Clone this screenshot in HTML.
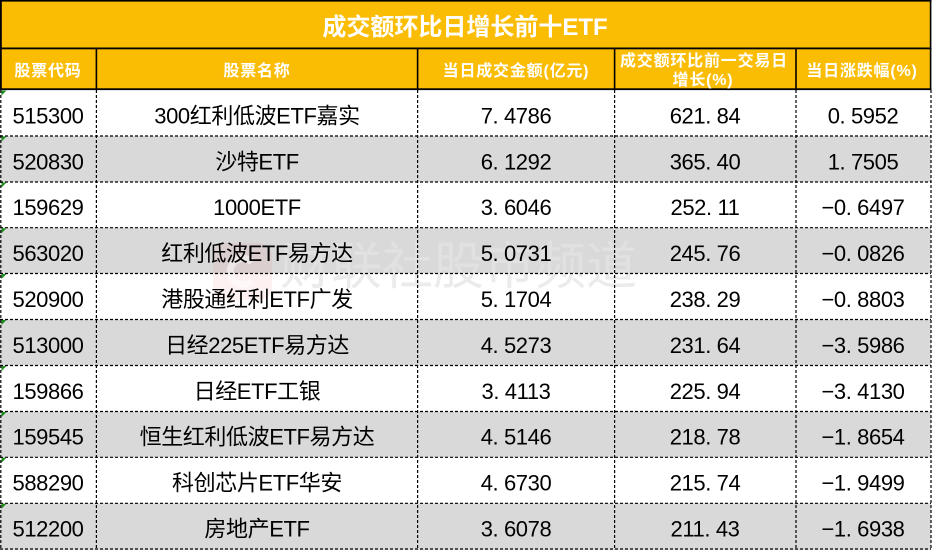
<!DOCTYPE html>
<html><head><meta charset="utf-8"><style>
html,body{margin:0;padding:0;background:#fff;}
svg{display:block;}
</style></head><body>
<svg width="933" height="550" viewBox="0 0 933 550" xmlns="http://www.w3.org/2000/svg" font-family="'Liberation Sans','Noto Sans CJK SC',sans-serif">
<rect x="0" y="0" width="933" height="550" fill="#ffffff"/>
<!-- header background -->
<rect x="0" y="0" width="931" height="89" fill="#FBBC04"/>
<!-- gray rows -->
<rect x="0" y="136" width="931" height="46" fill="#D9D9D9"/>
<rect x="0" y="227.7" width="931" height="45.8" fill="#D9D9D9"/>
<rect x="0" y="319.5" width="931" height="46" fill="#D9D9D9"/>
<rect x="0" y="411.5" width="931" height="45.8" fill="#D9D9D9"/>
<rect x="0" y="503.3" width="931" height="46.7" fill="#D9D9D9"/>

<!-- watermark -->
<g>
<rect x="213" y="243" width="59" height="57" rx="13" fill="rgba(225,80,80,0.08)"/>
<path d="M252 262 A13 13 0 1 0 252 281" fill="none" stroke="rgba(255,255,255,0.5)" stroke-width="7"/>
<text x="280" y="284" font-size="51" fill="rgba(228,228,228,0.74)" font-family="'Noto Sans CJK SC',sans-serif">财联社股市频道</text>
</g>

<!-- solid header borders -->
<g fill="#000">
<rect x="0" y="0" width="931.5" height="1.6"/>
<rect x="0" y="0" width="1.8" height="89"/>
<rect x="0" y="47.5" width="931.5" height="1.8"/>
<rect x="0" y="88.3" width="931.5" height="1.8"/>
<rect x="95.6" y="48" width="1.6" height="41"/>
<rect x="416.8" y="48" width="1.6" height="41"/>
<rect x="613.8" y="48" width="1.6" height="41"/>
<rect x="795.2" y="48" width="1.6" height="41"/>
<rect x="929.8" y="0" width="1.6" height="89"/>
</g>

<!-- dashed grid -->
<g stroke="#000" stroke-width="1.2" stroke-dasharray="3,2" fill="none">
<line x1="0.8" y1="90" x2="0.8" y2="550"/>
<line x1="96.4" y1="90" x2="96.4" y2="550"/>
<line x1="417.6" y1="90" x2="417.6" y2="550"/>
<line x1="614.6" y1="90" x2="614.6" y2="550"/>
<line x1="796" y1="90" x2="796" y2="550"/>
<line x1="931" y1="90" x2="931" y2="550"/>
<line x1="0" y1="136" x2="931" y2="136"/>
<line x1="0" y1="182" x2="931" y2="182"/>
<line x1="0" y1="227.7" x2="931" y2="227.7"/>
<line x1="0" y1="273.5" x2="931" y2="273.5"/>
<line x1="0" y1="319.5" x2="931" y2="319.5"/>
<line x1="0" y1="365.5" x2="931" y2="365.5"/>
<line x1="0" y1="411.5" x2="931" y2="411.5"/>
<line x1="0" y1="457.3" x2="931" y2="457.3"/>
<line x1="0" y1="503.3" x2="931" y2="503.3"/>
<line x1="0" y1="549" x2="931" y2="549"/>
</g>

<!-- green triangles -->
<g fill="#1e8c1e">
<polygon points="1.5,90.5 6.5,90.5 1.5,95.5"/>
<polygon points="1.5,136.5 6.5,136.5 1.5,141.5"/>
<polygon points="1.5,182.5 6.5,182.5 1.5,187.5"/>
<polygon points="1.5,228.2 6.5,228.2 1.5,233.2"/>
<polygon points="1.5,274 6.5,274 1.5,279"/>
<polygon points="1.5,320 6.5,320 1.5,325"/>
<polygon points="1.5,366 6.5,366 1.5,371"/>
<polygon points="1.5,412 6.5,412 1.5,417"/>
<polygon points="1.5,457.8 6.5,457.8 1.5,462.8"/>
<polygon points="1.5,503.8 6.5,503.8 1.5,508.8"/>
</g>

<!-- title -->
<text x="465" y="35" font-size="24" font-weight="bold" fill="#fff" text-anchor="middle">成交额环比日增长前十ETF</text>

<!-- header -->
<g font-size="16" font-weight="bold" fill="#fff" text-anchor="middle" letter-spacing="0.8">
<text x="48" y="76">股票代码</text>
<text x="257" y="76">股票名称</text>
<text x="516" y="76">当日成交金额(亿元)</text>
<text x="704" y="66">成交额环比前一交易日</text>
<text x="703" y="85">增长(%)</text>
<text x="862" y="76">当日涨跌幅(%)</text>
</g>

<!-- data -->
<g font-size="22" fill="#000" text-anchor="middle" letter-spacing="-0.4">
<text x="48" y="123.4">515300</text>
<text x="257" y="123.4">300红利低波ETF嘉实</text>
<text x="516" y="123.4">7. 4786</text>
<text x="705" y="123.4">621. 84</text>
<text x="863" y="123.4">0. 5952</text>

<text x="48" y="169.4">520830</text>
<text x="257" y="169.4">沙特ETF</text>
<text x="516" y="169.4">6. 1292</text>
<text x="705" y="169.4">365. 40</text>
<text x="863" y="169.4">1. 7505</text>

<text x="48" y="215.1">159629</text>
<text x="257" y="215.1">1000ETF</text>
<text x="516" y="215.1">3. 6046</text>
<text x="705" y="215.1">252. 11</text>
<text x="863" y="215.1">−0. 6497</text>

<text x="48" y="260.9">563020</text>
<text x="257" y="260.9">红利低波ETF易方达</text>
<text x="516" y="260.9">5. 0731</text>
<text x="705" y="260.9">245. 76</text>
<text x="863" y="260.9">−0. 0826</text>

<text x="48" y="306.9">520900</text>
<text x="257" y="306.9">港股通红利ETF广发</text>
<text x="516" y="306.9">5. 1704</text>
<text x="705" y="306.9">238. 29</text>
<text x="863" y="306.9">−0. 8803</text>

<text x="48" y="352.9">513000</text>
<text x="257" y="352.9">日经225ETF易方达</text>
<text x="516" y="352.9">4. 5273</text>
<text x="705" y="352.9">231. 64</text>
<text x="863" y="352.9">−3. 5986</text>

<text x="48" y="398.9">159866</text>
<text x="257" y="398.9">日经ETF工银</text>
<text x="516" y="398.9">3. 4113</text>
<text x="705" y="398.9">225. 94</text>
<text x="863" y="398.9">−3. 4130</text>

<text x="48" y="444.7">159545</text>
<text x="257" y="444.7">恒生红利低波ETF易方达</text>
<text x="516" y="444.7">4. 5146</text>
<text x="705" y="444.7">218. 78</text>
<text x="863" y="444.7">−1. 8654</text>

<text x="48" y="490.7">588290</text>
<text x="257" y="490.7">科创芯片ETF华安</text>
<text x="516" y="490.7">4. 6730</text>
<text x="705" y="490.7">215. 74</text>
<text x="863" y="490.7">−1. 9499</text>

<text x="48" y="536.4">512200</text>
<text x="257" y="536.4">房地产ETF</text>
<text x="516" y="536.4">3. 6078</text>
<text x="705" y="536.4">211. 43</text>
<text x="863" y="536.4">−1. 6938</text>
</g>
</svg>
</body></html>
